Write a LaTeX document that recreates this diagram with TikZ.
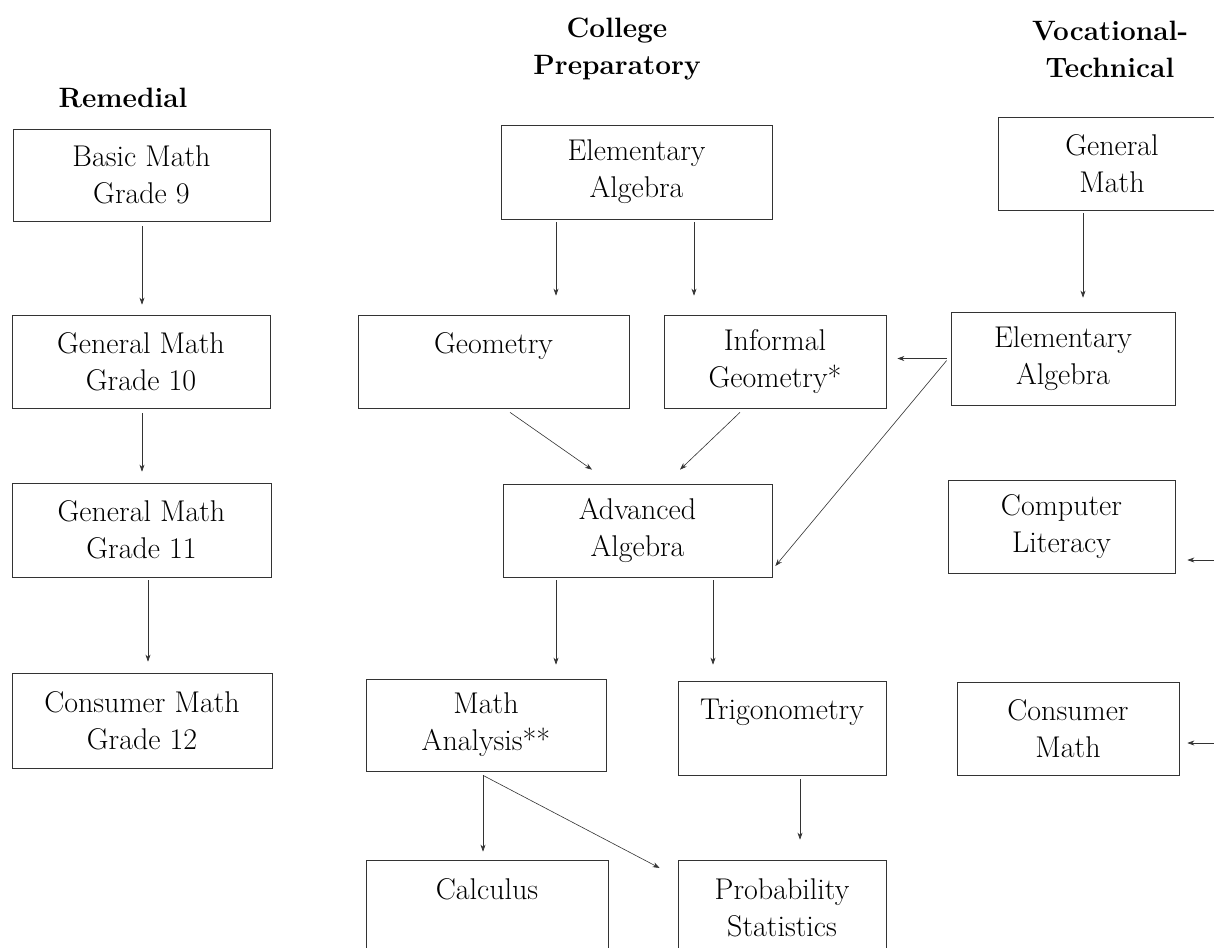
\documentclass[tikz,border=0pt]{standalone}
\usetikzlibrary{arrows.meta}
\begin{document}
\begin{tikzpicture}[x=1pt,y=-1pt,
  box/.style={draw=black!80,line width=0.7pt,rectangle,align=center,inner sep=0pt,
    font=\fontsize{30}{37}\selectfont},
  head/.style={align=center,font=\fontsize{28}{37}\selectfont\bfseries},
  arr/.style={draw=black!80,line width=0.6pt,-{Stealth[length=7pt,width=5pt]}}]
\clip (0,0) rectangle (1214,947);
\fill[white] (0,0) rectangle (1214,947);
% headers
\node[head] (hr) at (123,98) {Remedial};
\node[head] (hc) at (617,49) {College\\Preparatory};
\node[head] (hv) at (1110,49) {Vocational-\\Technical};
% remedial column
\node[box,minimum width=257pt,minimum height=92pt] (bm) at (141.5,175) {Basic Math\\Grade 9};
\node[box,minimum width=258pt,minimum height=93pt] (g10) at (141,361.5) {General Math\\Grade 10};
\node[box,minimum width=259pt,minimum height=94pt] (g11) at (141.5,530) {General Math\\Grade 11};
\node[box,minimum width=260pt,minimum height=95pt] (cm12) at (142,720.5) {Consumer Math\\Grade 12};
% college column
\node[box,minimum width=271pt,minimum height=94pt] (ea) at (636.5,172) {Elementary\\Algebra};
\node[box,minimum width=271pt,minimum height=93pt] (geo) at (493.5,361.5) {Geometry\\\mbox{}};
\node[box,minimum width=222pt,minimum height=93pt] (ig) at (775,361.5) {Informal\\Geometry*};
\node[box,minimum width=269pt,minimum height=93pt] (aa) at (637.5,530.5) {Advanced\\Algebra};
\node[box,minimum width=240pt,minimum height=92pt] (ma) at (486,725) {Math\\Analysis**};
\node[box,minimum width=208pt,minimum height=94pt] (tr) at (782,728) {Trigonometry\\\mbox{}};
\node[box,minimum width=242pt,minimum height=95pt] (calc) at (487,907.5) {Calculus\\\mbox{}};
\node[box,minimum width=208pt,minimum height=95pt] (ps) at (782,907.5) {Probability\\Statistics};
% vocational column
\node[box,minimum width=228pt,minimum height=93pt] (gm) at (1112,163.5) {General\\Math};
\node[box,minimum width=224pt,minimum height=93pt] (ea2) at (1063,358.5) {Elementary\\Algebra};
\node[box,minimum width=227pt,minimum height=93pt] (cl) at (1061.5,526.5) {Computer\\Literacy};
\node[box,minimum width=222pt,minimum height=93pt] (cm) at (1068,728.5) {Consumer\\Math};
% connectors
\draw[arr] ([xshift=0.5pt,yshift=-5pt]bm.south) -- ([xshift=1pt,yshift=10pt]g10.north);
\draw[arr] ([xshift=1pt,yshift=-5pt]g10.south) -- ([xshift=0.5pt,yshift=11pt]g11.north);
\draw[arr] ([xshift=6.5pt,yshift=-3pt]g11.south) -- ([xshift=6pt,yshift=11pt]cm12.north);
\draw[arr] ([xshift=-80.5pt,yshift=-3pt]ea.south) -- ([xshift=62.5pt,yshift=19pt]geo.north);
\draw[arr] ([xshift=57.5pt,yshift=-3pt]ea.south) -- ([xshift=-81pt,yshift=19pt]ig.north);
\draw[arr] ([xshift=16.5pt,yshift=-4pt]geo.south) -- ([xshift=-45.5pt,yshift=14pt]aa.north);
\draw[arr] ([xshift=-35pt,yshift=-4pt]ig.south) -- ([xshift=42.5pt,yshift=14pt]aa.north);
\draw[arr] ([xshift=-4pt]ea2.west) -- ([xshift=11pt]ig.east |- ea2.west);
\draw[arr] ([xshift=-4pt,yshift=-2pt]ea2.west) -- ([xshift=3pt,yshift=-35.5pt]aa.east);
\draw[arr] ([xshift=-81.5pt,yshift=-3pt]aa.south) -- ([xshift=70pt,yshift=14pt]ma.north);
\draw[arr] ([xshift=75.5pt,yshift=-3pt]aa.south) -- ([xshift=-69pt,yshift=16pt]tr.north);
\draw[arr] ([xshift=-3pt,yshift=-4pt]ma.south) -- ([xshift=-4pt,yshift=8pt]calc.north);
\draw[arr] ([xshift=-3pt,yshift=-4pt]ma.south) -- ([xshift=-18pt,yshift=39.5pt]ps.west);
\draw[arr] ([xshift=18pt,yshift=-4pt]tr.south) -- ([xshift=18pt,yshift=20pt]ps.north);
\draw[arr] ([xshift=-29pt,yshift=-3pt]gm.south) -- ([xshift=20pt,yshift=14pt]ea2.north);
\coordinate (fc) at (1216,560);
\coordinate (fm) at (1216,743);
\draw[arr] (fc) -- ([xshift=12pt]cl.east |- fc);
\draw[arr] (fm) -- ([xshift=8pt]cm.east |- fm);
\end{tikzpicture}
\end{document}
